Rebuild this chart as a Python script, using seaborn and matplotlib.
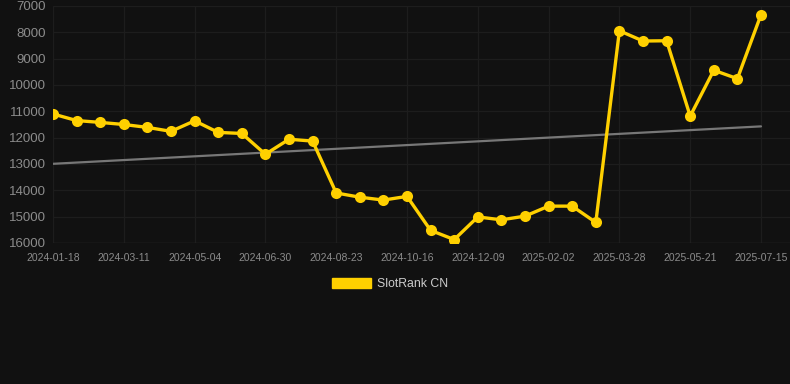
import numpy as np
import pandas as pd
import matplotlib
matplotlib.use("Agg")
import matplotlib.pyplot as plt
import seaborn as sns
from matplotlib.patches import Patch

# tarihler (her 3. etiket eksende görünüyor)
tarihler = ["2024-01-18", "2024-02-05", "2024-02-22", "2024-03-11", "2024-03-29", "2024-04-16",
            "2024-05-04", "2024-05-23", "2024-06-11", "2024-06-30", "2024-07-18", "2024-08-05",
            "2024-08-23", "2024-09-10", "2024-09-28", "2024-10-16", "2024-11-03", "2024-11-21",
            "2024-12-09", "2024-12-27", "2025-01-15", "2025-02-02", "2025-02-20", "2025-03-10",
            "2025-03-28", "2025-04-15", "2025-05-03", "2025-05-21", "2025-06-08", "2025-06-26",
            "2025-07-15"]
siralama = [11100, 11350, 11420, 11500, 11610, 11760, 11360, 11800, 11840, 12630,
            12060, 12130, 14100, 14260, 14370, 14230, 15520, 15870, 15010, 15120,
            14980, 14600, 14600, 15220, 7940, 8330, 8320, 11180, 9440, 9760, 7330]
y_etiketler = [7000, 8000, 9000, 10000, 11000, 12000, 13000, 14000, 15000, 16000]
seri_adi = "SlotRank CN"

df = pd.DataFrame({"tarih": tarihler, "sira": siralama})
df["i"] = np.arange(len(df))

sns.set_style("dark")
plt.rcParams["font.family"] = ["Liberation Sans", "DejaVu Sans"]

arka = "#111111"
sari = "#FFD000"

fig = plt.figure(figsize=(7.9, 3.84), dpi=100, facecolor=arka)
ax = fig.add_axes([53 / 790, 1 - 243 / 384, 1 - 53 / 790, (243 - 6) / 384])
ax.set_facecolor(arka)

# trend çizgisi (doğrusal regresyon)
egim, kesim = np.polyfit(df["i"], df["sira"], 1)
ax.plot([0, len(df) - 1], [kesim, kesim + egim * (len(df) - 1)], color="#777777", lw=1.6, zorder=2)

sns.lineplot(data=df, x="i", y="sira", ax=ax, color=sari, lw=2.4, marker="o",
             markersize=8, markeredgewidth=0, zorder=3)

ax.set_ylim(16000, 7000)
ax.set_xlim(0, len(df) - 1 + 29 / 23.6)
ax.set_yticks(y_etiketler)
ax.set_yticklabels([str(v) for v in y_etiketler])
ax.set_xticks(df["i"][::3])
ax.set_xticklabels(df["tarih"][::3])
ax.set_xlabel("")
ax.set_ylabel("")

ax.grid(True, color="#1d1d1d", lw=0.9)
for s in ax.spines.values():
    s.set_visible(False)
ax.axhline(16000, color="#2b2b2b", lw=1, zorder=1)
ax.tick_params(axis="y", colors="#8c8c8c", labelsize=9.5, length=0, pad=5)
ax.tick_params(axis="x", colors="#8c8c8c", labelsize=7.5, length=0, pad=7)

fig.legend(handles=[Patch(facecolor=sari, edgecolor=sari)], labels=[seri_adi],
           loc="center", bbox_to_anchor=(390 / 790, 1 - 284 / 384), frameon=False,
           fontsize=8.8, labelcolor="#cccccc", handlelength=3.2, handleheight=0.9,
           handletextpad=0.5)

fig.savefig("out.png", dpi=100, facecolor=arka)
